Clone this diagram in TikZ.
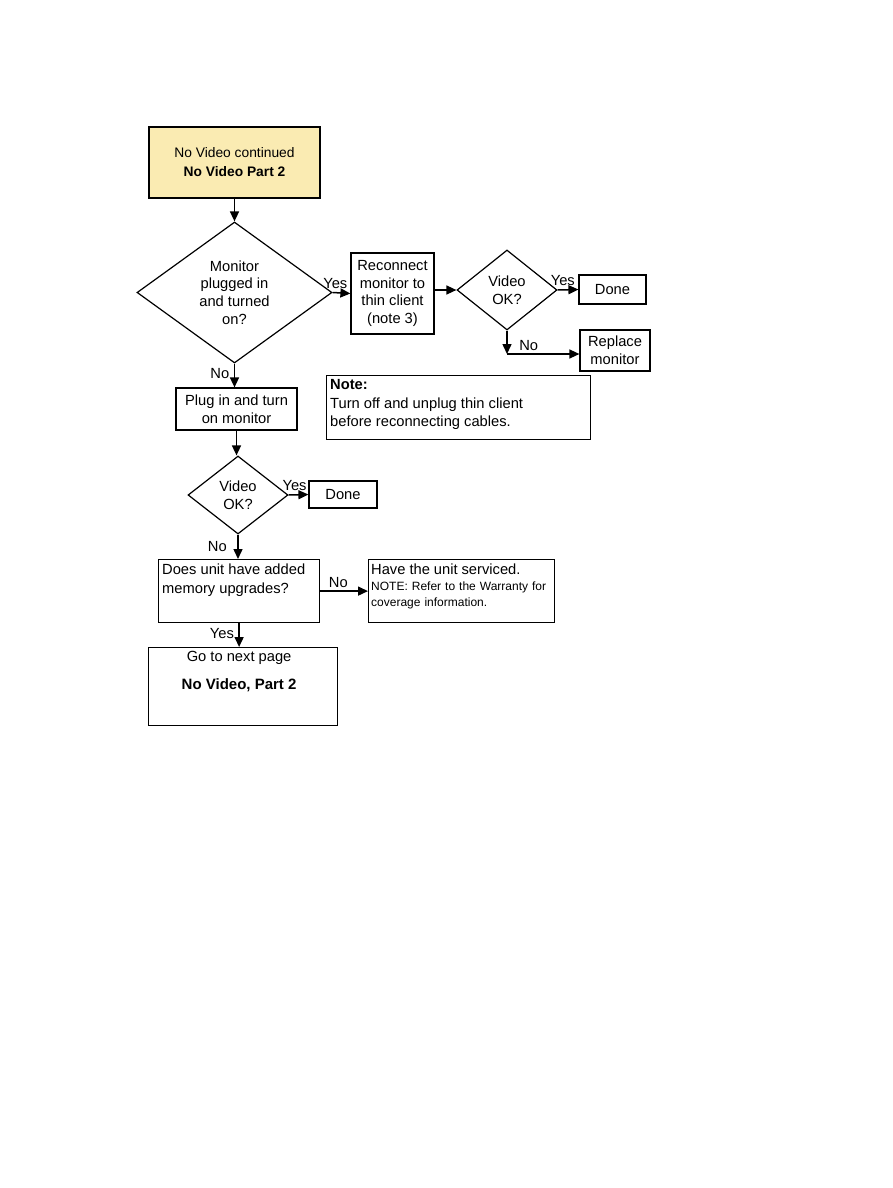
\documentclass[tikz,border=0pt]{standalone}
\usepackage{fontspec}
\setmainfont{Liberation Sans}
\usepackage{tikz}
\usetikzlibrary{arrows.meta,positioning,calc,shapes.geometric}
\definecolor{StartYellow}{HTML}{FAEBB2}

\begin{document}
\begin{tikzpicture}[x=1pt,y=-1pt,
  every node/.style={font=\fontsize{14.7}{17.6}\selectfont},
  box/.style={draw, line width=1.2pt, inner sep=2pt},
  dec/.style={draw, diamond, line width=1.2pt, inner sep=0pt, align=center},
  txt/.style={inner sep=0pt, anchor=north west, align=left},
  lab/.style={inner sep=1.5pt},
  arr/.style={line width=1.5pt, -{Triangle[length=10pt,width=9pt]}}]
\useasboundingbox (0,0) rectangle (893,1188);

\node[box, fill=StartYellow, minimum width=171pt, minimum height=71pt, align=center,
  font=\fontsize{13.8}{19}\selectfont] (start) at (234.5,162.5) {No Video continued\\\textbf{No Video Part 2}};
\node[dec, minimum width=195pt, minimum height=141pt] (plugged) at (234.5,292.5) {Monitor\\plugged in\\and turned\\on?};
\node[box, minimum width=83pt, minimum height=81pt, align=center] (reconnect) at (392.5,293.5) {Reconnect\\monitor to\\thin client\\(note 3)};
\node[dec, minimum width=100pt, minimum height=80pt] (videoA) at (507,290) {Video\\OK?};
\node[box, minimum width=67pt, minimum height=29pt] (doneA) at (612.5,289.5) {Done};
\node[box, minimum width=70pt, minimum height=41pt, align=center] (replace) at (615,350.5) {Replace\\monitor};
\coordinate (turn) at (507,354);

\node[box, minimum width=264pt, minimum height=64pt, anchor=north west] (note) at (326,375) {};
\node[txt] (notetxt) at ([xshift=4pt,yshift=-4pt]note.north west) {\textbf{Note:}\\[2pt]Turn off and unplug thin client\\before reconnecting cables.};

\node[box, minimum width=121pt, minimum height=42pt, align=center] (plugin) at (236.5,409) {Plug in and turn\\on monitor};
\node[dec, minimum width=100pt, minimum height=78pt] (videoB) at (238,495) {Video\\OK?};
\node[box, minimum width=68pt, minimum height=27pt] (doneB) at (343,494.5) {Done};

\node[box, minimum width=161pt, minimum height=63pt, anchor=north west] (memory) at (158,559) {};
\node[txt, font=\fontsize{14.7}{19}\selectfont] (memtxt) at ([xshift=4pt,yshift=-5pt]memory.north west) {Does unit have added\\memory upgrades?};
\node[box, minimum width=186pt, minimum height=63pt, anchor=north west] (service) at (368,559) {};
\node[txt, text width=180pt, font=\fontsize{12}{16}\selectfont] (servtxt) at ([xshift=3pt,yshift=-5pt]service.north west) {{\fontsize{14.7}{17}\selectfont Have the unit serviced.}\\NOTE: Refer to the Warranty for\\coverage information.};

\node[box, minimum width=189pt, minimum height=78pt, anchor=north west] (nextpage) at (148,647) {};
\node[inner sep=0pt, anchor=north, align=center] (nexttxt) at ([xshift=-4pt,yshift=-4pt]nextpage.north) {Go to next page\\[10pt]{\fontsize{15}{16}\selectfont\bfseries No Video, Part 2}};

\draw[arr] (start.south) -- (plugged.north);
\draw[arr] (plugged.east) -- node[lab, above=2pt, pos=0.15] (yesA) {Yes} (reconnect.west);
\draw[arr] (reconnect.east |- videoA.west) -- (videoA.west);
\draw[arr] (videoA.east) -- node[lab, above=2pt, pos=0.25] (yesB) {Yes} (doneA.west);
\draw[arr] (videoA.south) -- (turn);
\draw[arr] (turn) -- node[lab, above=1pt, pos=0.3] (noA) {No} (replace.west |- turn);
\draw[arr] (plugged.south) -- node[lab, left=3pt, pos=0.4] (noB) {No} (plugged.south |- plugin.north);
\draw[arr] (plugin.south) -- (plugin.south |- videoB.north);
\draw[arr] (videoB.east) -- node[lab, above=2pt, pos=0.3] (yesC) {Yes} (doneB.west);
\draw[arr] (videoB.south) -- node[lab, left=9pt, pos=0.5] (noC) {No} (videoB.south |- memory.north);
\draw[arr] (memory.east) -- node[lab, above=1pt, pos=0.38] (noD) {No} (service.west);
\draw[arr] (memory.south) -- node[lab, left=3pt, pos=0.45] (yesD) {Yes} (memory.south |- nextpage.north);
\end{tikzpicture}
\end{document}
